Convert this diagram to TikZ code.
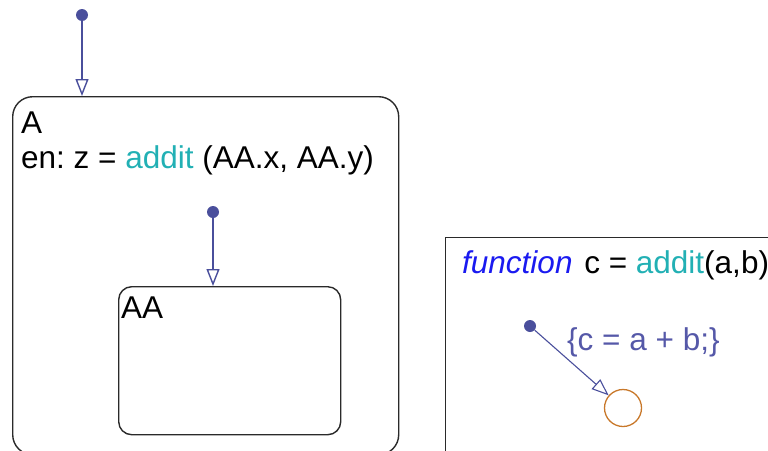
\documentclass[tikz,border=0pt]{standalone}
\usepackage{fontspec}
\setmainfont{Liberation Sans}
\usetikzlibrary{arrows.meta}
\definecolor{trcol}{HTML}{4A4F9C}
\definecolor{teal}{HTML}{22B0B4}
\definecolor{fnblue}{HTML}{1A1AF0}
\definecolor{junc}{HTML}{C8782A}
\definecolor{lbl}{HTML}{5558A8}
\definecolor{edge}{HTML}{2A2A2A}
\newcommand\diagfont{\fontsize{31.5}{38}\selectfont\frenchspacing}
\begin{document}
\begin{tikzpicture}[x=1pt,y=-1pt,
  txt/.style={inner sep=0pt,anchor=base west,font=\diagfont},
  statebox/.style={draw=edge,line width=1.4pt,rounded corners=#1,inner sep=0pt},
  dot/.style={circle,fill=trcol,inner sep=0pt,minimum size=12pt},
  tr/.style={draw=trcol,line width=1.4pt,-{Triangle[open,length=17pt,width=13pt]}},
  jn/.style={circle,draw=junc,line width=1.3pt,minimum size=37pt,inner sep=0pt}]
\useasboundingbox (0,0) rectangle (768,450);
\clip (0,0) rectangle (768,450);
% function box
\node[draw=edge,line width=1.4pt,minimum width=360pt,minimum height=240pt,inner sep=0pt,anchor=north west] (F) at (445,237) {};
% state A
\node[statebox=20pt,minimum width=386pt,minimum height=358pt,anchor=north west] (A) at (12,96) {};
% state AA
\node[statebox=13pt,minimum width=222pt,minimum height=148pt,anchor=north west] (AA) at (118,286) {};
% texts
\node[txt] (tA) at (21,133) {A};
\node[txt] (tAen) at (21,168) {en: z = \textcolor{teal}{addit} (AA.x, AA.y)};
\node[txt] (tAA) at (121,318) {AA};
\node[txt] (tF) at (462,273) {\textcolor{fnblue}{\itshape function}\hspace{3pt} c = \textcolor{teal}{addit}(a,b)};
% default transitions
\node[dot] (d1) at (82,15) {};
\draw[tr] (d1) -- (d1 |- A.north);
\node[dot] (d2) at (213,212) {};
\draw[tr] (d2) -- (d2 |- AA.north);
% function internals
\node[dot] (d3) at (530,326) {};
\node[jn] (J) at (623,408) {};
\draw[tr,line width=1.1pt] (d3) -- (J);
\node[txt,text=lbl] (lab) at (567,350) {\{c = a + b;\}};
\end{tikzpicture}
\end{document}
